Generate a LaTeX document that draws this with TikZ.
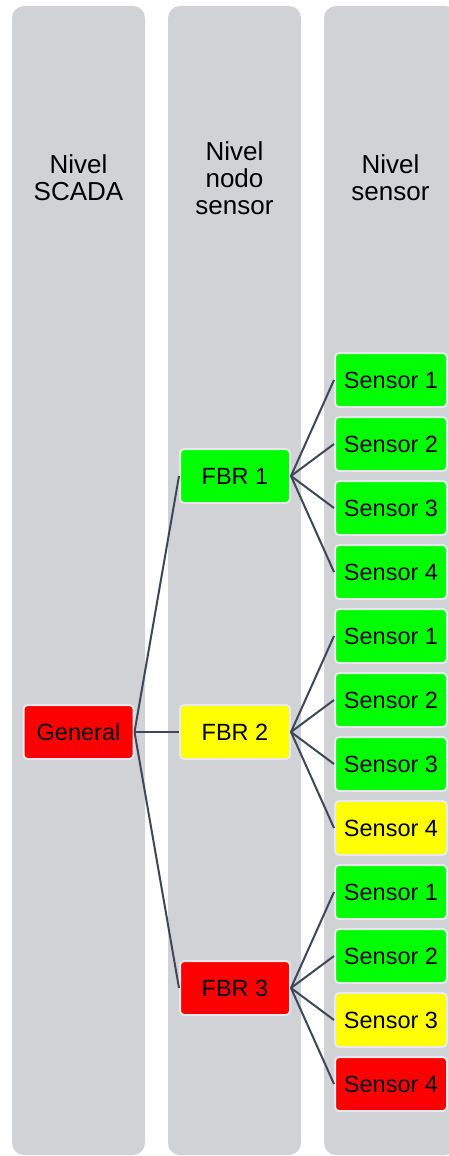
\documentclass[tikz,border=0pt]{standalone}
\usepackage{fontspec}
\setmainfont{Liberation Sans}
\definecolor{colgris}{RGB}{209,210,214}
\definecolor{bordegris}{RGB}{232,233,236}
\definecolor{linea}{RGB}{60,72,90}
\definecolor{verde}{RGB}{0,255,0}
\definecolor{amarillo}{RGB}{255,255,0}
\definecolor{rojo}{RGB}{255,0,0}
\tikzset{
  nivel/.style={fill=colgris, draw=none, rounded corners=12pt},
  titulo/.style={align=center, font=\fontsize{26}{27}\selectfont},
  caja/.style={draw=bordegris, line width=2pt, rounded corners=4pt,
    minimum width=110pt, minimum height=54pt, inner sep=0pt,
    font=\fontsize{23.5}{27}\selectfont},
  ok/.style={caja, fill=verde},
  aviso/.style={caja, fill=amarillo},
  falla/.style={caja, fill=rojo},
  enlace/.style={draw=linea, line width=2pt},
}

\begin{document}
\begin{tikzpicture}[x=1pt, y=-1pt]
\useasboundingbox (0,0) rectangle (448,1156);
% columnas de nivel
\fill[nivel] (12,6) rectangle (145,1155);
\fill[nivel] (168,6) rectangle (301,1155);
\fill[nivel] (324,6) rectangle (457,1155);
\node[titulo] (tscada) at (78.5,178) {Nivel\\SCADA};
\node[titulo] (tnodo) at (234.5,178) {Nivel\\nodo\\sensor};
\node[titulo] (tsensor) at (390.5,178) {Nivel\\sensor};
% nodos
\node[falla] (general) at (78.5,732) {General};
\node[ok] (fbr1) at (235,476) {FBR 1};
\node[aviso] (fbr2) at (235,732) {FBR 2};
\node[falla] (fbr3) at (235,988) {FBR 3};
\foreach \f in {1,2,3}
  \draw[enlace] (general.east) -- (fbr\f.west);
% sensores de cada FBR
\foreach \f/\estados in {1/{ok,ok,ok,ok},2/{ok,ok,ok,aviso},3/{ok,ok,aviso,falla}} {
  \foreach \e [count=\s] in \estados {
    \node[\e, minimum width=112pt] (s\f\s) at (391,{380+64*(4*\f+\s-5)}) {Sensor \s};
    \draw[enlace] (fbr\f.east) -- (s\f\s.west);
  }
}
\end{tikzpicture}
\end{document}
